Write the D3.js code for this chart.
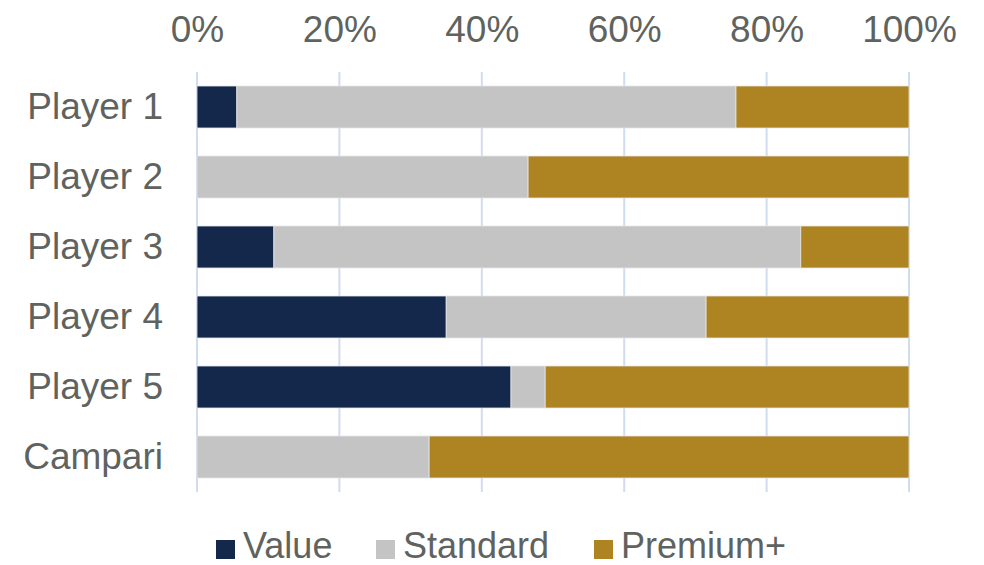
<!DOCTYPE html>
<html><head><meta charset="utf-8">
<script src="https://cdn.jsdelivr.net/npm/d3@7"></script>
<style>body{margin:0;background:#fff}text{font-family:"Liberation Sans",Arial,sans-serif}</style>
</head><body>
<svg id="c" width="984" height="565"></svg>
<script>
const categories = ["Player 1","Player 2","Player 3","Player 4","Player 5","Campari"];
const seriesNames = ["Value","Standard","Premium+"];
const valueShare = [5.6, 0, 10.8, 35.0, 44.1, 0];
const standardShare = [70.1, 46.5, 74.0, 36.5, 4.8, 32.6];
const premiumShare = [24.3, 53.5, 15.2, 28.5, 51.1, 67.4];
const tickValues = [0, 20, 40, 60, 80, 100];
const colors = ["#14284b", "#c3c4c3", "#ae8322"];

const svg = d3.select("#c");
const x = d3.scaleLinear().domain([0, 100]).range([197, 909]);
const y = d3.scaleBand().domain(categories).range([72, 492]).paddingInner(0.4).paddingOuter(0.2);
const textColor = "#5f6360";

svg.append("g").selectAll("line").data(tickValues).join("line")
  .attr("x1", d => x(d)).attr("x2", d => x(d))
  .attr("y1", 72).attr("y2", 492)
  .attr("stroke", "#d0dcf0").attr("stroke-width", 2);

const ax = d3.axisTop(x).tickValues(tickValues).tickFormat(d => d + "%").tickSize(0).tickPadding(0);
const gAx = svg.append("g").attr("transform", "translate(0,42)").call(ax);
gAx.select(".domain").remove();
gAx.selectAll("text").attr("fill", textColor).style("font-size", "37px").style("font-family", "Liberation Sans, Arial, sans-serif");

const ay = d3.axisLeft(y).tickSize(0).tickPadding(0);
const gAy = svg.append("g").attr("transform", "translate(163,0)").call(ay);
gAy.select(".domain").remove();
gAy.selectAll("text").attr("fill", textColor).style("font-size", "37px").style("font-family", "Liberation Sans, Arial, sans-serif");

const rows = categories.map((c, i) => ({cat: c, Value: valueShare[i], Standard: standardShare[i], "Premium+": premiumShare[i]}));
const stack = d3.stack().keys(seriesNames)(rows);

svg.append("g").selectAll("g").data(stack).join("g")
  .attr("fill", (d, i) => colors[i])
  .selectAll("rect").data(d => d).join("rect")
  .attr("x", d => x(d[0]))
  .attr("width", d => Math.max(0, x(d[1]) - x(d[0])))
  .attr("y", d => y(d.data.cat))
  .attr("height", y.bandwidth())
  .attr("stroke", "#e6e6e6").attr("stroke-width", d => (d[1] - d[0]) > 0 ? 0.8 : 0);

const legX = [216, 376, 594];
const leg = svg.append("g").selectAll("g").data(seriesNames).join("g")
  .attr("transform", (d, i) => `translate(${legX[i]},540)`);
leg.append("rect").attr("width", 19).attr("height", 19).attr("fill", (d, i) => colors[i]);
leg.append("text").attr("x", 27).attr("y", 18).text(d => d)
  .attr("fill", textColor).style("font-size", "36px");
</script>
</body></html>
